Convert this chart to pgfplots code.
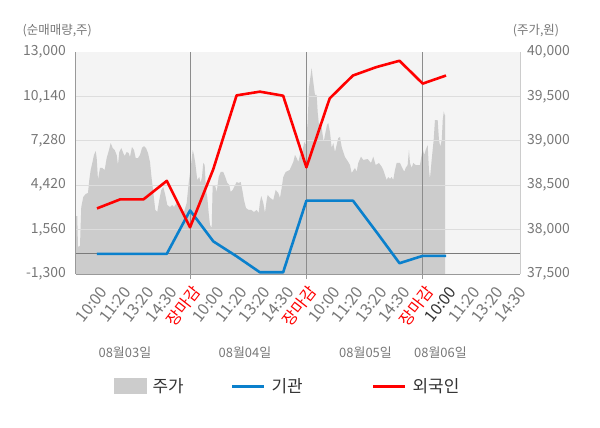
\documentclass[border=0pt]{standalone}
\usepackage{pgfplots}
\pgfplotsset{compat=1.18}
\usepackage{fontspec}
\setmainfont{Noto Sans CJK KR}
\definecolor{bgc}{HTML}{F4F4F4}
\definecolor{areac}{HTML}{CCCCCC}
\definecolor{gridc}{HTML}{DDDDDD}
\definecolor{tickc}{HTML}{777777}
\definecolor{axisc}{HTML}{999999}
\definecolor{vline}{HTML}{8C8C8C}
\definecolor{zeroc}{HTML}{7A7A7A}
\definecolor{instc}{HTML}{0A80CC}
\definecolor{forc}{HTML}{FF0000}
\definecolor{legc}{HTML}{333333}
\newcommand{\tfont}{\fontsize{14}{16}\selectfont}
\newcommand{\xfont}{\fontsize{16}{18}\selectfont}
\newcommand{\jm}{\textcolor{forc}{장마감}}
\begin{document}
\begin{tikzpicture}
\useasboundingbox (-76bp,-154bp) rectangle (524bp,274bp);
\begin{axis}[
  scale only axis, width=444bp, height=222bp,
  at={(0,0)}, anchor=south west,
  xmin=-0.902, xmax=18.18,
  ymin=37500, ymax=40000,
  scaled y ticks=false,
  axis background/.style={fill=bgc},
  axis x line=none,
  axis y line*=right,
  y axis line style={draw=areac, line width=1bp, -},
  ytick={37500,38000,38500,39000,39500,40000},
  yticklabels={{37,500},{38,000},{38,500},{39,000},{39,500},{40,000}},
  major tick length=0pt,
  yticklabel style={font=\tfont, text=tickc, anchor=west, inner sep=0pt, xshift=7bp},
]
\addplot[fill=areac, draw=none] table {
x y
-0.902 38153
-0.847 38153
-0.817 37807
-0.731 37815
-0.675 38254
-0.589 38367
-0.486 38401
-0.387 38412
-0.331 38559
-0.271 38671
-0.202 38750
-0.129 38840
-0.056 38885
-0.013 38806
0.043 38559
0.129 38694
0.228 38694
0.331 38671
0.417 38806
0.516 38896
0.589 38975
0.675 38919
0.761 38896
0.847 38840
0.902 38727
0.958 38874
1.044 38919
1.130 38862
1.190 38829
1.276 38874
1.362 38862
1.418 38817
1.504 38930
1.590 38896
1.663 38806
1.762 38806
1.848 38840
1.934 38919
2.020 38941
2.106 38919
2.192 38862
2.278 38761
2.333 38615
2.419 38423
2.505 38221
2.591 38198
2.677 38333
2.763 38446
2.849 38480
2.935 38390
3.021 38277
3.137 38254
3.236 38277
3.309 38254
3.451 38311
3.597 38254
3.739 38198
3.855 38300
3.941 38525
3.997 38637
4.052 38750
4.113 38896
4.168 38840
4.224 38750
4.310 38559
4.396 38592
4.456 38525
4.512 38592
4.568 38750
4.628 38727
4.684 38446
4.740 38367
4.800 38187
4.856 38052
4.929 38018
4.972 38502
5.071 38502
5.144 38423
5.230 38592
5.316 38649
5.428 38649
5.514 38592
5.600 38525
5.685 38502
5.746 38423
5.832 38446
5.917 38491
6.003 38536
6.089 38525
6.175 38536
6.261 38423
6.317 38333
6.403 38243
6.519 38221
6.631 38221
6.747 38198
6.863 38221
6.949 38187
7.005 38311
7.061 38378
7.147 38300
7.220 38187
7.293 38333
7.336 38390
7.447 38356
7.576 38333
7.679 38446
7.791 38412
7.864 38356
7.937 38468
8.006 38592
8.109 38649
8.281 38671
8.436 38761
8.509 38840
8.582 38806
8.651 38761
8.724 38840
8.823 38874
8.909 38986
8.969 38953
9.055 39212
9.110 39594
9.166 39707
9.226 39820
9.269 39718
9.312 39628
9.368 39516
9.441 39516
9.484 39324
9.540 39178
9.626 39212
9.682 39099
9.742 38986
9.798 39065
9.884 39178
9.940 39200
10.013 39099
10.086 38919
10.155 38975
10.228 38874
10.301 38953
10.370 39031
10.443 39043
10.516 38930
10.585 38874
10.658 38817
10.799 38761
10.872 38727
10.946 38637
11.087 38694
11.160 38652
11.229 38750
11.345 38821
11.444 38784
11.633 38795
11.775 38750
11.874 38821
11.977 38727
12.119 38750
12.235 38708
12.303 38671
12.376 38615
12.449 38559
12.518 38592
12.591 38570
12.664 38592
12.733 38559
12.806 38671
12.879 38750
13.021 38750
13.120 38694
13.206 38652
13.266 38694
13.352 38727
13.408 38896
13.451 38750
13.524 38694
13.593 38750
13.696 38727
13.881 38727
13.997 38908
14.066 38840
14.126 38896
14.212 38953
14.267 38671
14.310 38570
14.383 38784
14.470 39009
14.525 39234
14.641 39234
14.697 39009
14.753 38934
14.817 39009
14.860 39234
14.903 39328
14.946 39290
14.959 39290
} \closedcycle;
\end{axis}
\begin{axis}[
  scale only axis, width=444bp, height=222bp,
  at={(0,0)}, anchor=south west,
  clip=false,
  xmin=-0.902, xmax=18.18,
  ymin=-1300, ymax=13000,
  scaled y ticks=false,
  axis x line*=bottom, axis y line*=left,
  axis line style={draw=axisc, line width=1bp, -},
  major tick length=0pt, tick align=outside,
  xtick={0,...,18},
  xticklabels={10:00,11:20,13:20,14:30,\jm,10:00,11:20,13:20,14:30,\jm,10:00,11:20,13:20,14:30,\jm,\textcolor{legc}{10:00},11:20,13:20,14:30},
  xticklabel style={font=\xfont, text=tickc, inner sep=0pt, xshift=7bp, yshift=-14.5bp, rotate=52, anchor=east},
  extra x ticks={4,9,14},
  extra x tick labels={},
  extra x tick style={xmajorgrids=true, major grid style={draw=vline, line width=1bp}, major tick length=5bp, tick style={draw=axisc, line width=1bp}},
  ytick={-1300,1560,4420,7280,10140},
  yticklabels={{-1,300},{1,560},{4,420},{7,280},{10,140}},
  extra y ticks={13000}, extra y tick labels={13{,}000},
  extra y tick style={ymajorgrids=false},
  ymajorgrids, 
  y grid style={draw=gridc, line width=1bp},
  yticklabel style={font=\tfont, text=tickc, anchor=east, inner sep=0pt, xshift=-10bp},
  legend columns=3,
  legend style={at={(axis description cs:0.0856,-0.5045)}, anchor=west, draw=none, fill=none, inner sep=0pt,
    font=\fontsize{17}{20}\selectfont, text=legc, nodes={inner sep=0pt},
    /tikz/every odd column/.append style={column sep=6bp}},
]
\draw[zeroc, line width=1bp] (axis cs:-0.902,0) -- (axis cs:18.18,0);
\addlegendimage{legend image code/.code={\fill[areac] (0bp,-7.5bp) rectangle (32bp,7.5bp);}}
\addlegendentry{\makebox[78bp][l]{주가}}
\addplot[instc, line width=2.6bp, line join=round,
  legend image code/.code={\draw[instc, line width=3bp] (0bp,0bp) -- (32bp,0bp);}] coordinates {
(0,0) (1,0) (2,0) (3,0) (4,2795) (5,800) (6,-160) (7,-1190) (8,-1190) (9,3425) (10,3425) (11,3425) (12,1430) (13,-605) (14,-130) (15,-130)
};
\addlegendentry{\makebox[100bp][l]{기관}}
\addplot[forc, line width=2.6bp, line join=round,
  legend image code/.code={\draw[forc, line width=3bp] (0bp,0bp) -- (32bp,0bp);}] coordinates {
(0,2925) (1,3510) (2,3510) (3,4700) (4,1710) (5,5460) (6,10205) (7,10445) (8,10185) (9,5570) (10,10010) (11,11485) (12,12025) (13,12435) (14,10965) (15,11485)
};
\addlegendentry{외국인}
\node[font=\fontsize{12.5}{14}\selectfont, text=tickc] at (rel axis cs:0,1) [xshift=-18.7bp, yshift=21bp] {(순매매량,주)};
\node[font=\fontsize{12.5}{14}\selectfont, text=tickc] at (rel axis cs:1,1) [xshift=16bp, yshift=21bp] {(주가,원)};
\node[font=\fontsize{13}{15}\selectfont, text=tickc] at (axis cs:1.2,-1300) [yshift=-79bp] {08월03일};
\node[font=\fontsize{13}{15}\selectfont, text=tickc] at (axis cs:6.36,-1300) [yshift=-79bp] {08월04일};
\node[font=\fontsize{13}{15}\selectfont, text=tickc] at (axis cs:11.54,-1300) [yshift=-79bp] {08월05일};
\node[font=\fontsize{13}{15}\selectfont, text=tickc] at (axis cs:14.76,-1300) [yshift=-79bp] {08월06일};
\end{axis}
\end{tikzpicture}
\end{document}
